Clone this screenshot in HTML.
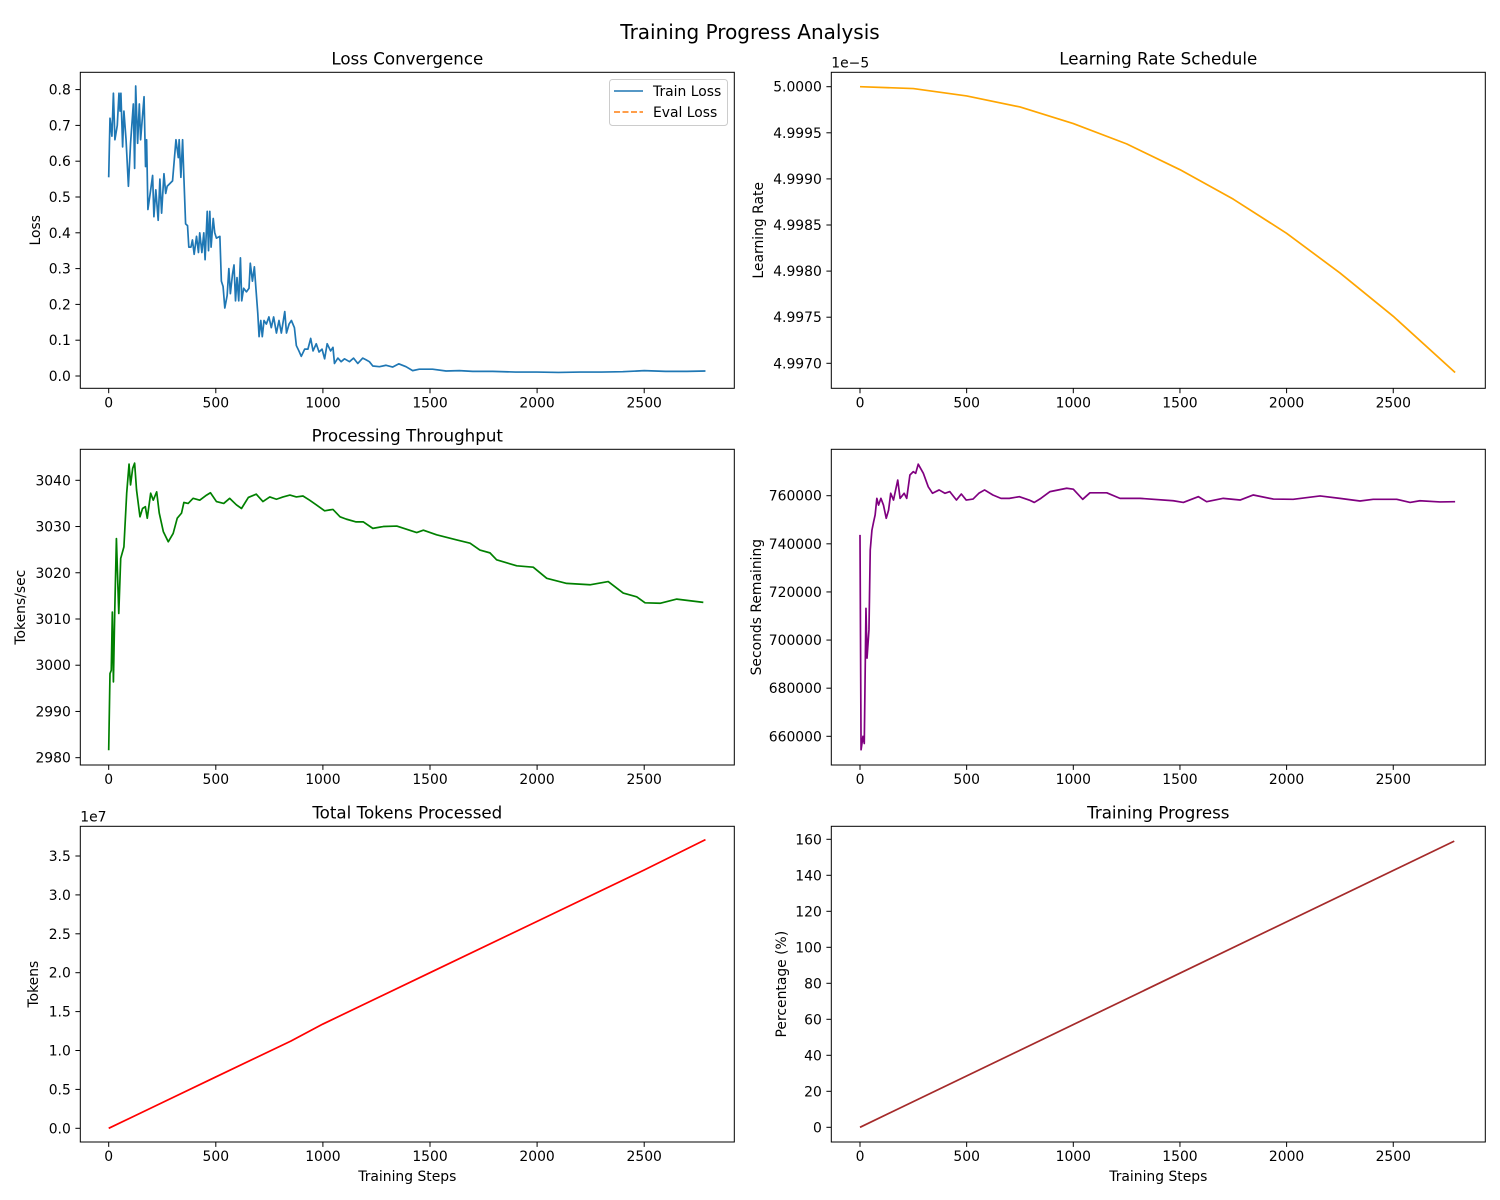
<!DOCTYPE html>
<html><head><meta charset="utf-8"><style>
html,body{margin:0;padding:0;background:#fff;}
svg{display:block;font-family:"DejaVu Sans","Liberation Sans",sans-serif;}
</style></head><body>
<svg id="fig" width="1500" height="1200" viewBox="0 0 1500 1200" xmlns="http://www.w3.org/2000/svg">
<rect width="1500" height="1200" fill="#fff"/>
<text x="750" y="39" font-size="20" text-anchor="middle">Training Progress Analysis</text>
</svg>
<script>
// ---- data ----
const lossSteps = [0,6,15,22,29,40,48,53,57,65,71,81,92,102,115,121,126,135,143,149,165,172,177,183,196,205,211,220,231,239,247,258,266,273,298,314,325,329,337,345,351,359,368,374,384,391,399,410,419,425,435,444,450,460,466,472,478,488,495,503,519,526,534,542,553,561,568,578,585,592,599,607,615,621,630,643,655,661,671,680,686,696,702,710,717,725,736,748,759,770,783,795,806,822,830,842,853,867,876,888,899,915,930,943,954,969,982,996,1008,1020,1036,1047,1054,1070,1085,1101,1124,1143,1163,1186,1202,1217,1233,1264,1295,1326,1354,1388,1419,1450,1512,1575,1637,1699,1792,1900,2000,2100,2200,2300,2400,2500,2600,2700,2786];
const lossValues = [0.555,0.72,0.67,0.79,0.66,0.70,0.79,0.74,0.79,0.64,0.74,0.66,0.53,0.65,0.76,0.58,0.81,0.65,0.76,0.66,0.78,0.585,0.66,0.465,0.52,0.56,0.445,0.52,0.435,0.55,0.455,0.565,0.51,0.53,0.545,0.66,0.61,0.66,0.555,0.66,0.555,0.425,0.42,0.36,0.36,0.38,0.34,0.39,0.345,0.40,0.345,0.40,0.325,0.46,0.35,0.46,0.36,0.44,0.40,0.385,0.39,0.265,0.25,0.19,0.225,0.30,0.23,0.285,0.31,0.21,0.275,0.21,0.33,0.21,0.245,0.235,0.245,0.315,0.265,0.305,0.255,0.175,0.11,0.155,0.11,0.155,0.145,0.165,0.135,0.165,0.12,0.155,0.12,0.18,0.12,0.145,0.155,0.135,0.085,0.07,0.055,0.075,0.075,0.105,0.07,0.09,0.067,0.075,0.048,0.09,0.07,0.08,0.035,0.05,0.04,0.048,0.04,0.05,0.035,0.05,0.045,0.04,0.028,0.026,0.03,0.025,0.034,0.026,0.015,0.019,0.019,0.014,0.015,0.013,0.013,0.011,0.011,0.010,0.011,0.011,0.012,0.015,0.013,0.013,0.014];
const lossTicks = [0.0,0.1,0.2,0.3,0.4,0.5,0.6,0.7,0.8];

const lrSteps = [0,250,500,750,1000,1250,1500,1750,2000,2250,2500,2790];
const lrValues = [5.0000,4.99998,4.99990,4.99978,4.99960,4.99938,4.99910,4.99878,4.99841,4.99798,4.99751,4.99690];
const lrTicks = [4.9970,4.9975,4.9980,4.9985,4.9990,4.9995,5.0000];

const tputSteps = [0,6,12,17,22,28,36,47,56,71,84,95,102,112,121,130,146,158,171,180,196,208,224,236,255,278,301,320,340,351,371,394,425,457,475,503,537,565,596,620,652,689,720,752,783,814,846,876,907,938,969,1008,1033,1047,1080,1109,1155,1189,1233,1282,1345,1438,1469,1531,1625,1687,1733,1780,1811,1905,1982,2045,2138,2247,2332,2402,2465,2504,2574,2652,2776];
const tputValues = [2981.6,2998.2,2998.9,3011.5,2996.4,3011.2,3027.4,3011.2,3023.1,3025.6,3037.2,3043.5,3039.0,3042.6,3043.7,3037.9,3032.1,3033.9,3034.3,3031.8,3037.2,3035.7,3037.5,3032.9,3028.9,3026.7,3028.5,3031.8,3032.9,3035.2,3035.0,3036.1,3035.7,3036.8,3037.3,3035.4,3035.0,3036.1,3034.7,3033.9,3036.3,3037.0,3035.4,3036.4,3035.9,3036.4,3036.8,3036.4,3036.6,3035.7,3034.7,3033.4,3033.6,3033.7,3032.1,3031.6,3031.0,3031.0,3029.6,3030.0,3030.1,3028.7,3029.2,3028.2,3027.1,3026.4,3024.9,3024.3,3022.8,3021.5,3021.2,3018.8,3017.7,3017.4,3018.1,3015.6,3014.8,3013.5,3013.4,3014.3,3013.6];
const tputTicks = [2980,2990,3000,3010,3020,3030,3040];

const secSteps = [0,5,14,20,28,33,42,48,56,64,71,79,87,98,110,123,134,144,157,177,188,207,219,234,250,261,273,297,320,340,371,398,421,452,475,498,530,557,584,623,661,700,747,793,817,848,891,969,1000,1044,1078,1157,1219,1313,1469,1516,1586,1625,1703,1782,1844,1938,2031,2157,2250,2344,2406,2516,2579,2625,2719,2790];
const secValues = [743700,654400,660000,657000,713200,692500,704200,737400,745700,749200,752000,758900,756100,758900,756100,750600,754000,761000,758200,766500,758900,761000,758900,768600,770000,769300,773100,769300,763700,761000,762400,761000,761700,758200,760700,758200,758600,761000,762400,760300,758900,758900,759600,758200,757200,758900,761700,763100,762700,758500,761200,761200,758900,758900,757900,757200,759600,757500,758900,758200,760300,758600,758500,759900,758900,757800,758500,758500,757200,757900,757400,757500];
const secTicks = [660000,680000,700000,720000,740000,760000];

const tokSteps = [0,250,500,850,1000,1500,2000,2500,2786];
const tokValues = [0.0,0.33,0.66,1.12,1.34,2.0,2.66,3.32,3.71];
const tokTicks = [0.0,0.5,1.0,1.5,2.0,2.5,3.0,3.5];

const pctSteps = [0,2786];
const pctValues = [0,159];
const pctTicks = [0,20,40,60,80,100,120,140,160];

const stepTicks = [0,500,1000,1500,2000,2500];

// ---- layout ----
const NS = "http://www.w3.org/2000/svg";
const svg = document.getElementById('fig');
function mk(tag, attrs, parent){const e=document.createElementNS(NS,tag);for(const k in attrs)e.setAttribute(k,attrs[k]);(parent||svg).appendChild(e);return e;}

function panel(o){
  const g = mk('g',{});
  
  
  const L=o.left,R=o.left+654,T=o.top,B=o.bottom;
  const xs = s => o.x0 + s*o.xk;
  const ys = v => o.yPix0 + (v - o.yVal0)*o.yk;
  stepTicks.forEach(t=>{
    const x=xs(t);
    mk('line',{x1:x,x2:x,y1:B,y2:B+4.9,stroke:'#000','stroke-width':1},g);
    const tx=mk('text',{x:x,y:B+19,'font-size':13.9,'text-anchor':'middle'},g);
    tx.textContent=String(t);
    
    
  });
  o.yTicks.forEach(t=>{
    const y=ys(t);
    mk('line',{x1:L-4.9,x2:L,y1:y,y2:y,stroke:'#000','stroke-width':1},g);
    const tx=mk('text',{x:L-9.5,y:y+5,'font-size':13.9,'text-anchor':'end'},g);
    tx.textContent=t.toFixed(o.dec);
    
    
  });
  o.series.forEach(s=>{
    let d='';
    s.xs.forEach((st,i)=>{d+=(i?'L':'M')+xs(st).toFixed(2)+','+ys(s.ys[i]).toFixed(2);});
    const p=mk('path',{d:d,fill:'none',stroke:s.color,'stroke-width':1.7,'stroke-linejoin':'round'},g);
    
    
  });
  mk('rect',{x:L,y:T,width:654,height:B-T,fill:'none',stroke:'#000','stroke-width':1},g);
  const ti=mk('text',{x:L+327,y:T-8,'font-size':16.7,'text-anchor':'middle'},g);
  ti.textContent=o.title;
  
  
  const yl=mk('text',{x:0,y:0,'font-size':13.9,'text-anchor':'middle',transform:`translate(${o.ylx},${(T+B)/2}) rotate(-90)`},g);
  yl.textContent=o.ylabel;
  
  
  if(o.xlabel){
    const xl=mk('text',{x:L+327,y:B+39,'font-size':13.9,'text-anchor':'middle'},g);
    xl.textContent=o.xlabel;
    
    
  }
  if(o.offset){
    const ot=mk('text',{x:L,y:T-5,'font-size':13.9},g);
    ot.textContent=o.offset;
    
    
  }
  return g;
}

const LX={x0:108.7,xk:0.2142,left:80.3};
const RX={x0:860,xk:0.2133,left:831.3};

panel(Object.assign({},LX,{name:'loss-convergence-panel',top:72.3,bottom:388.3,yPix0:376,yVal0:0,yk:-358,yTicks:lossTicks,dec:1,title:'Loss Convergence',ylabel:'Loss',ylx:40,
  series:[{name:'train-loss-line',color:'#1f77b4',xs:lossSteps,ys:lossValues}]}));
panel(Object.assign({},RX,{name:'learning-rate-panel',top:72.3,bottom:388.3,yPix0:86.7,yVal0:5.0,yk:-92200,yTicks:lrTicks,dec:4,title:'Learning Rate Schedule',ylabel:'Learning Rate',ylx:763,offset:'1e\u22125',
  series:[{name:'learning-rate-line',color:'#ffa500',xs:lrSteps,ys:lrValues}]}));
panel(Object.assign({},LX,{name:'throughput-panel',top:449.3,bottom:765,yPix0:480.3,yVal0:3040,yk:-4.623,yTicks:tputTicks,dec:0,title:'Processing Throughput',ylabel:'Tokens/sec',ylx:25,
  series:[{name:'throughput-line',color:'#008000',xs:tputSteps,ys:tputValues}]}));
panel(Object.assign({},RX,{name:'seconds-remaining-panel',top:449.3,bottom:765,yPix0:495.7,yVal0:760000,yk:-0.002406,yTicks:secTicks,dec:0,title:'',ylabel:'Seconds Remaining',ylx:761,
  series:[{name:'seconds-remaining-line',color:'#800080',xs:secSteps,ys:secValues}]}));
panel(Object.assign({},LX,{name:'total-tokens-panel',top:826.3,bottom:1142,yPix0:1128.3,yVal0:0,yk:-77.8,yTicks:tokTicks,dec:1,title:'Total Tokens Processed',ylabel:'Tokens',ylx:38,xlabel:'Training Steps',offset:'1e7',
  series:[{name:'total-tokens-line',color:'#ff0000',xs:tokSteps,ys:tokValues}]}));
panel(Object.assign({},RX,{name:'training-progress-panel',top:826.3,bottom:1142,yPix0:1127.3,yVal0:0,yk:-1.8,yTicks:pctTicks,dec:0,title:'Training Progress',ylabel:'Percentage (%)',ylx:786,xlabel:'Training Steps',
  series:[{name:'progress-line',color:'#a52a2a',xs:pctSteps,ys:pctValues}]}));

const lg=mk('g',{});


mk('rect',{x:609.5,y:79.5,width:118,height:46,rx:3,fill:'#fff',stroke:'#ccc','stroke-width':1},lg);
mk('line',{x1:614,x2:643,y1:91,y2:91,stroke:'#1f77b4','stroke-width':1.6},lg);
mk('line',{x1:614,x2:643,y1:112,y2:112,stroke:'#ff7f0e','stroke-width':1.6,'stroke-dasharray':'6,2.5'},lg);
const l1=mk('text',{x:653,y:96,'font-size':13.9},lg);l1.textContent='Train Loss';


const l2=mk('text',{x:653,y:117,'font-size':13.9},lg);l2.textContent='Eval Loss';


</script>
</body></html>
